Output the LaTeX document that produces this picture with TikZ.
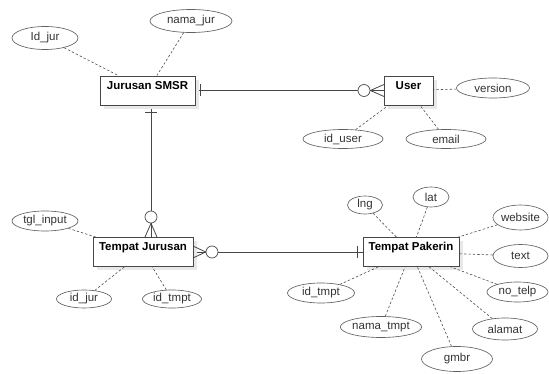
\documentclass[tikz,border=0pt]{standalone}
\usepackage{fontspec}
\setmainfont{Liberation Sans}
\usepackage{tikz}
\usetikzlibrary{shapes.geometric,shadows}
\tikzset{
  ent/.style    ={rectangle,draw=black!72,line width=0.9pt,fill=white,
                  inner sep=2pt,text height=9pt,text depth=11.6pt,
                  minimum height=29pt,font=\fontsize{11.5}{13}\selectfont\bfseries,
                  drop shadow={shadow xshift=4pt,shadow yshift=-4pt,
                               fill=black!9,opacity=1}},
  attr/.style   ={ellipse,draw=black!62,line width=0.65pt,fill=white,
                  inner sep=0pt,font=\fontsize{11.5}{13}\selectfont,
                  text=black!80},
  ocirc/.style  ={circle,draw=black!70,line width=0.7pt,fill=white,
                  minimum size=12pt,inner sep=0pt},
  rel/.style    ={draw=black!72,line width=0.8pt},
  attrline/.style ={draw=black!70,line width=0.6pt,dash pattern=on 2.4pt off 2pt},
}

\begin{document}
\begin{tikzpicture}[x=1pt, y=-1pt]

\useasboundingbox (0,0) rectangle (549,374);

%% ---------------- relationships (drawn first, entities on top) ----------------
\coordinate (jurE)  at (195,90.5);
\coordinate (userW) at (384,90.5);
\draw[rel] (jurE) -- (userW);

\coordinate (jurS) at (151,105);
\coordinate (tjN)  at (151,237);
\draw[rel] (jurS) -- (tjN);

\coordinate (tjE) at (193,252);
\coordinate (tpW) at (363,252);
\draw[rel] (tjE) -- (tpW);

%% ---------------- entities ----------------
\node[ent,minimum width=95pt]  (jur)  at (147.5,90.5) {Jurusan SMSR};
\node[ent,minimum width=49pt]  (user) at (408.5,90.5) {User};
\node[ent,minimum width=100pt] (tj)   at (143,252)    {Tempat Jurusan};
\node[ent,minimum width=96pt]  (tp)   at (411,252)    {Tempat Pakerin};

%% ---------------- attributes ----------------
\node[attr,minimum width=66pt,minimum height=23pt] (idjur)    at (45,38)    {Id\_jur};
\node[attr,minimum width=82pt,minimum height=23pt] (namajur)  at (191,21)   {nama\_jur};

\node[attr,minimum width=73pt,minimum height=20pt] (version)  at (493,88)   {version};
\node[attr,minimum width=80pt,minimum height=19pt] (iduser)   at (343,139)  {id\_user};
\node[attr,minimum width=80pt,minimum height=19pt] (email)    at (446,139)  {email};

\node[attr,minimum width=66pt,minimum height=20pt] (tglinput) at (45,221)   {tgl\_input};
\node[attr,minimum width=55pt,minimum height=18pt] (tjidjur)  at (84,299)   {id\_jur};
\node[attr,minimum width=59pt,minimum height=18pt] (tjidtmpt) at (172,299)  {id\_tmpt};

\node[attr,minimum width=35pt,minimum height=18pt] (lng)      at (365,205)  {lng};
\node[attr,minimum width=36pt,minimum height=20pt] (lat)      at (431,197)  {lat};
\node[attr,minimum width=55pt,minimum height=25pt] (website)  at (520.5,217.5) {website};
\node[attr,minimum width=55pt,minimum height=23pt] (text)     at (520.5,256) {text};
\node[attr,minimum width=61pt,minimum height=20pt] (notelp)   at (517.5,292) {no\_telp};
\node[attr,minimum width=65pt,minimum height=22pt] (alamat)   at (505,329)  {alamat};
\node[attr,minimum width=71pt,minimum height=25pt] (gmbr)     at (457,359)  {gmbr};
\node[attr,minimum width=80pt,minimum height=21pt] (namatmpt) at (381,327)  {nama\_tmpt};
\node[attr,minimum width=67pt,minimum height=20pt] (tpidtmpt) at (321,293)  {id\_tmpt};

%% dashed links attribute -> entity
\foreach \a/\e in {idjur/jur, namajur/jur,
                   version/user, iduser/user, email/user,
                   tglinput/tj, tjidjur/tj, tjidtmpt/tj,
                   lng/tp, lat/tp, website/tp, text/tp, notelp/tp,
                   alamat/tp, gmbr/tp, namatmpt/tp, tpidtmpt/tp}{
  \draw[attrline] (\a) -- (\e);
}

%% ---------------- cardinality marks ----------------
%% "one" bars
\draw[rel] ([xshift=5pt,yshift=6pt]jurE) -- ([xshift=5pt,yshift=-6pt]jurE);
\draw[rel] ([xshift=-6pt,yshift=-7pt]jurS) -- ([xshift=6pt,yshift=-7pt]jurS);
\draw[rel] ([xshift=-6pt,yshift=6pt]tpW) -- ([xshift=-6pt,yshift=-6pt]tpW);

%% "zero or many": circle + crow's foot
\node[ocirc] (c1) at (364,90.5) {};
\draw[rel] (c1.east) -- ([yshift=6pt]userW);
\draw[rel] (c1.east) -- ([yshift=-6pt]userW);

\node[ocirc] (c2) at (151,217) {};
\draw[rel] (c2.south) -- ([xshift=-6pt]tjN);
\draw[rel] (c2.south) -- ([xshift=6pt]tjN);

\node[ocirc] (c3) at (212,252) {};
\draw[rel] (c3.west) -- ([yshift=6pt]tjE);
\draw[rel] (c3.west) -- ([yshift=-6pt]tjE);

\end{tikzpicture}
\end{document}
